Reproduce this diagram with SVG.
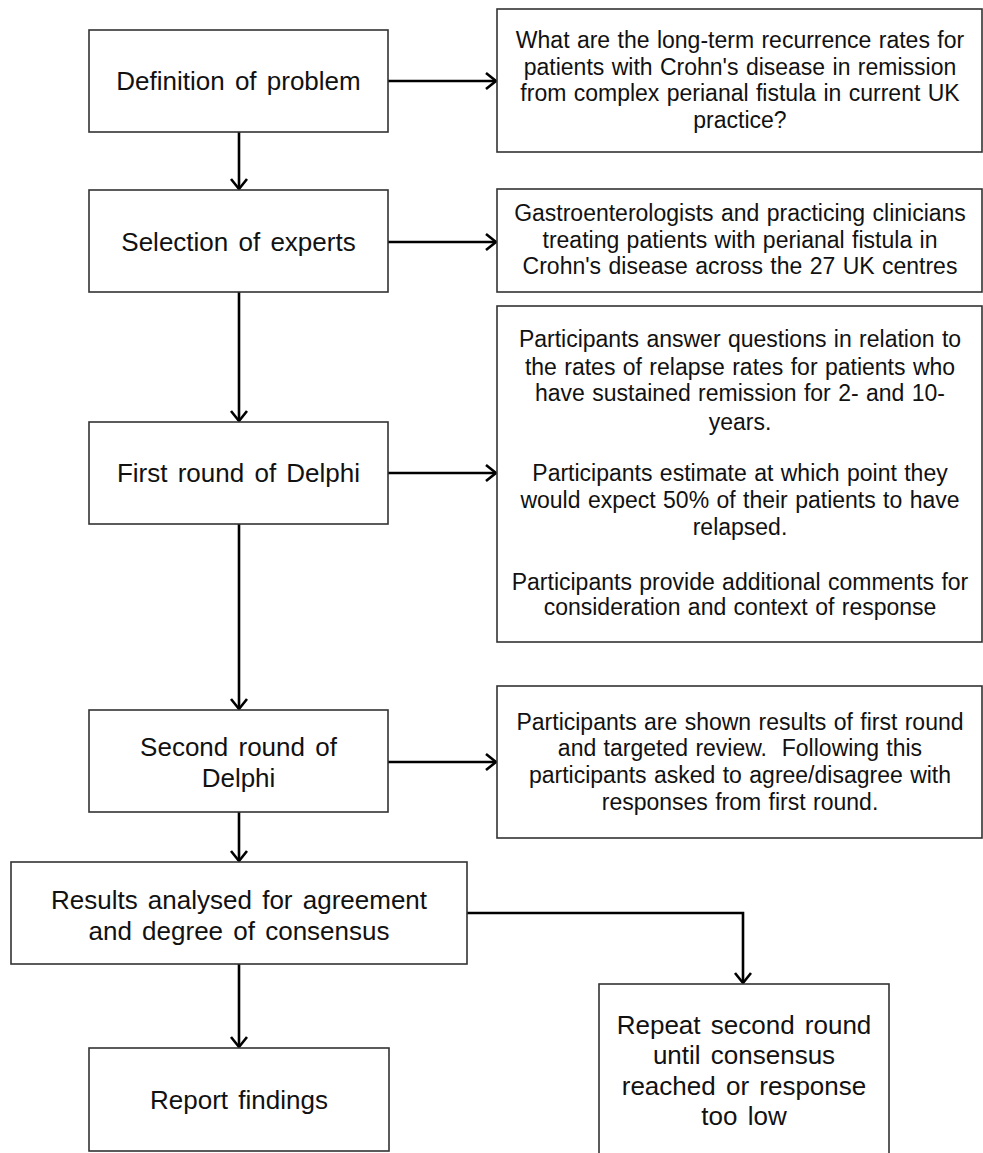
<svg xmlns="http://www.w3.org/2000/svg" width="983" height="1153" viewBox="0 0 983 1153">
<style>
.box{fill:#fff;stroke:#333;stroke-width:1.6}
.t{font-family:"Liberation Sans",Arial,sans-serif;fill:#111;text-anchor:middle}
.m{font-size:26px;word-spacing:3px}
.s{font-size:23px;word-spacing:1px}
.c{fill:none;stroke:#000;stroke-width:2.6;marker-end:url(#ah)}
</style>
<defs>
<marker id="ah" markerUnits="userSpaceOnUse" markerWidth="16" markerHeight="20" viewBox="0 0 16 20" refX="13" refY="10" orient="auto">
<path d="M3,2 L13,10 L3,18" fill="none" stroke="#000" stroke-width="2.6" stroke-linejoin="miter"/>
</marker>
</defs>
<rect width="983" height="1153" fill="#fff"/>
<g id="connectors">
<line class="c" x1="388" y1="81" x2="496" y2="81"/>
<line class="c" x1="388" y1="242" x2="496" y2="242"/>
<line class="c" x1="388" y1="473" x2="496" y2="473"/>
<line class="c" x1="388" y1="762" x2="496" y2="762"/>
<line class="c" x1="239" y1="132" x2="239" y2="189"/>
<line class="c" x1="239" y1="292" x2="239" y2="421"/>
<line class="c" x1="239" y1="524" x2="239" y2="709"/>
<line class="c" x1="239" y1="812" x2="239" y2="861"/>
<line class="c" x1="239" y1="964" x2="239" y2="1047"/>
<path class="c" d="M467,913 H743 V983"/>
</g>
<g id="n1">
<rect class="box" x="89" y="30" width="299" height="102"/>
<text class="t m" x="238.5" y="90">Definition of problem</text>
</g>
<g id="r1">
<rect class="box" x="497" y="9" width="485" height="143"/>
<text class="t s" x="740" y="48">What are the long-term recurrence rates for</text>
<text class="t s" x="740" y="75">patients with Crohn's disease in remission</text>
<text class="t s" x="740" y="101">from complex perianal fistula in current UK</text>
<text class="t s" x="740" y="128">practice?</text>
</g>
<g id="n2">
<rect class="box" x="89" y="190" width="299" height="102"/>
<text class="t m" x="238.5" y="251">Selection of experts</text>
</g>
<g id="r2">
<rect class="box" x="497" y="189" width="485" height="103"/>
<text class="t s" x="740" y="221">Gastroenterologists and practicing clinicians</text>
<text class="t s" x="740" y="248">treating patients with perianal fistula in</text>
<text class="t s" x="740" y="274">Crohn's disease across the 27 UK centres</text>
</g>
<g id="n3">
<rect class="box" x="89" y="422" width="299" height="102"/>
<text class="t m" x="238.5" y="482">First round of Delphi</text>
</g>
<g id="r3">
<rect class="box" x="497" y="306" width="485" height="336"/>
<text class="t s" x="740" y="347">Participants answer questions in relation to</text>
<text class="t s" x="740" y="375">the rates of relapse rates for patients who</text>
<text class="t s" x="740" y="401">have sustained remission for 2- and 10-</text>
<text class="t s" x="740" y="430">years.</text>
<text class="t s" x="740" y="481">Participants estimate at which point they</text>
<text class="t s" x="740" y="508">would expect 50% of their patients to have</text>
<text class="t s" x="740" y="535">relapsed.</text>
<text class="t s" x="740" y="590">Participants provide additional comments for</text>
<text class="t s" x="740" y="615">consideration and context of response</text>
</g>
<g id="n4">
<rect class="box" x="89" y="710" width="299" height="102"/>
<text class="t m" x="238.5" y="756">Second round of</text>
<text class="t m" x="238.5" y="787">Delphi</text>
</g>
<g id="r4">
<rect class="box" x="497" y="686" width="485" height="152"/>
<text class="t s" x="740" y="730">Participants are shown results of first round</text>
<text class="t s" x="740" y="756">and targeted review.&#160; Following this</text>
<text class="t s" x="740" y="783">participants asked to agree/disagree with</text>
<text class="t s" x="740" y="810">responses from first round.</text>
</g>
<g id="n5">
<rect class="box" x="11" y="862" width="456" height="102"/>
<text class="t m" x="239" y="909">Results analysed for agreement</text>
<text class="t m" x="239" y="940">and degree of consensus</text>
</g>
<g id="n6">
<rect class="box" x="89" y="1048" width="300" height="103"/>
<text class="t m" x="239" y="1109">Report findings</text>
</g>
<g id="n7">
<rect class="box" x="599" y="984" width="290" height="180"/>
<text class="t m" x="744" y="1034">Repeat second round</text>
<text class="t m" x="744" y="1064">until consensus</text>
<text class="t m" x="744" y="1095">reached or response</text>
<text class="t m" x="744" y="1125">too low</text>
</g>
</svg>
